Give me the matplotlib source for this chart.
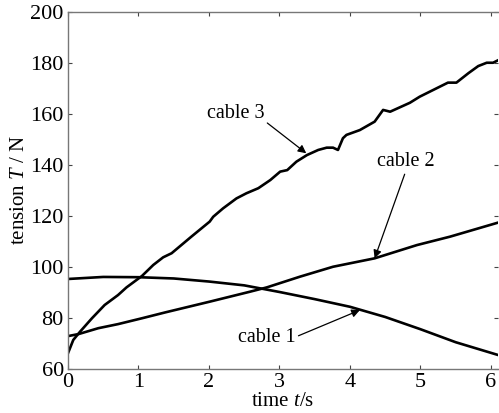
import matplotlib
matplotlib.use("Agg")
import matplotlib.pyplot as plt

plt.rcParams['font.family'] = ['Liberation Serif', 'DejaVu Serif']
plt.rcParams['mathtext.fontset'] = 'custom'
plt.rcParams['mathtext.rm'] = 'Liberation Serif'
plt.rcParams['mathtext.it'] = 'Liberation Serif:italic'

# cable 3
t3 = [0.00, 0.075, 0.17, 0.34, 0.52, 0.71, 0.83, 1.05, 1.21, 1.35, 1.47, 1.75, 2.01, 2.06,
      2.20, 2.39, 2.53, 2.70, 2.87, 3.01, 3.11, 3.24, 3.39, 3.55, 3.67, 3.76, 3.83, 3.90,
      3.95, 4.14, 4.35, 4.47, 4.57, 4.85, 4.99, 5.23, 5.39, 5.51, 5.68, 5.82, 5.94, 6.03, 6.11]
T3 = [66.2, 71.4, 74.6, 79.9, 85.1, 89.0, 92.0, 96.5, 100.8, 103.8, 105.4, 111.9, 117.8, 119.7,
      123.0, 126.9, 128.9, 130.9, 134.1, 137.4, 138.0, 141.3, 143.9, 145.9, 146.8, 146.8, 145.9, 150.5,
      151.8, 153.7, 157.0, 161.6, 160.9, 164.4, 166.8, 170.1, 172.3, 172.3, 176.0, 178.8, 180.1, 180.1, 181.2]

# cable 1
t1 = [0.0, 0.5, 1.0, 1.5, 2.0, 2.5, 3.0, 3.5, 4.0, 4.5, 5.0, 5.5, 6.1]
T1 = [95.3, 96.1, 96.0, 95.5, 94.3, 92.8, 90.2, 87.4, 84.4, 80.4, 75.6, 70.5, 65.5]

# cable 2
t2 = [0.0, 0.15, 0.43, 0.71, 1.05, 1.38, 2.01, 2.58, 2.82, 3.29, 3.76, 4.35, 4.95, 5.42, 6.10]
T2 = [72.9, 73.7, 76.0, 77.6, 79.9, 82.2, 86.4, 90.3, 92.0, 96.2, 100.1, 103.4, 108.6, 111.9, 117.4]

xticks = [0, 1, 2, 3, 4, 5, 6]
yticks = [60, 80, 100, 120, 140, 160, 180, 200]

fig = plt.figure(figsize=(4.99, 4.13), dpi=100)
ax = fig.add_axes([68/499, 1-369/413, 430/499, 357/413])

for t, T in [(t1, T1), (t2, T2), (t3, T3)]:
    ax.plot(t, T, color='black', lw=1.9, solid_joinstyle='round')

ax.set_xlim(0, 6.1)
ax.set_ylim(60, 200)
ax.set_xticks(xticks)
ax.set_yticks(yticks)
ax.tick_params(direction='in', length=3, width=0.8, color='#444444',
               top=True, right=True, labelsize=16)
ax.tick_params(axis='x', pad=3)
ax.tick_params(axis='y', pad=3)
for s in ax.spines.values():
    s.set_color('#777777')
    s.set_linewidth(1.0)
ax.spines['right'].set_visible(False)

ax.set_xlabel('time $t$/s', fontsize=15, labelpad=0)
ax.set_ylabel('tension $T$ / N', fontsize=15, labelpad=1)

arrowprops = dict(arrowstyle='-|>', color='black', lw=0.9, mutation_scale=12, shrinkA=0, shrinkB=0)
ax.annotate('cable 3', xy=(3.38, 144.6), xytext=(2.38, 160.3), fontsize=14.5,
            ha='center', va='center', arrowprops=dict(arrowprops, relpos=(1.0, 0.1)))
ax.annotate('cable 2', xy=(4.35, 103.4), xytext=(4.79, 141.2), fontsize=14.5,
            ha='center', va='center', arrowprops=dict(arrowprops, relpos=(0.5, 0.0)))
ax.annotate('cable 1', xy=(4.14, 83.1), xytext=(3.23, 72.2), fontsize=14.5,
            ha='right', va='center', arrowprops=dict(arrowprops, relpos=(1.0, 0.55)))

fig.savefig('out.png', dpi=100)
